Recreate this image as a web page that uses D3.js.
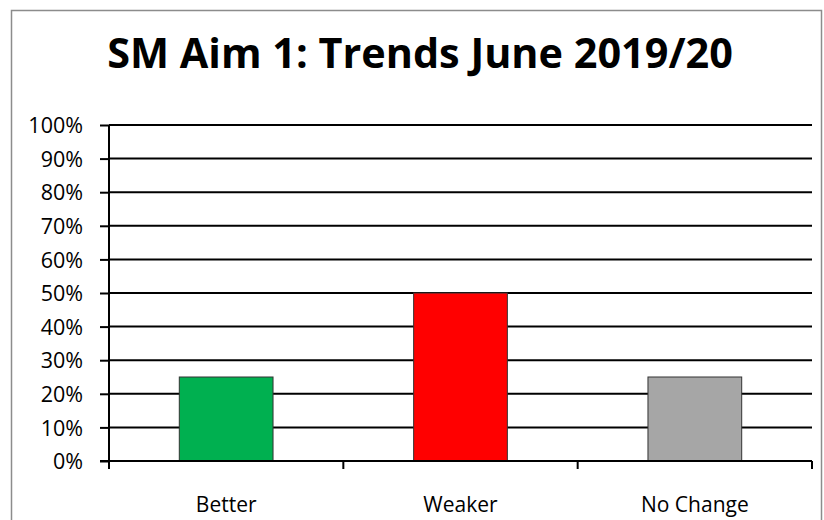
<!DOCTYPE html>
<html>
<head>
<meta charset="utf-8">
<script src="https://cdn.jsdelivr.net/npm/d3@7"></script>
<style>
  body { margin: 0; background: #fff; }
  text { font-family: "Open Sans", "Noto Sans", sans-serif; fill: #000; }
</style>
</head>
<body>
<svg id="chart" width="824" height="520"></svg>
<script>
// chart data
var categories = ['Better', 'Weaker', 'No Change'];
var values = [0.25, 0.50, 0.25];
var barColors = ['#00b050', '#ff0000', '#a6a6a6'];
var yTicks = [0, 0.1, 0.2, 0.3, 0.4, 0.5, 0.6, 0.7, 0.8, 0.9, 1.0];
var title = 'SM Aim 1: Trends June 2019/20';

(function () {
    var svg = d3.select('#chart');
    var left = 109, right = 812, top = 125, bottom = 461;

    // outer frame
    svg.append('rect')
        .attr('x', 11.5).attr('y', 10.5)
        .attr('width', 810).attr('height', 530)
        .attr('fill', 'none')
        .attr('stroke', '#8c8c8c')
        .attr('stroke-width', 1.5);

    // title, sized to the width of the original
    var t = svg.append('text')
        .attr('x', 420).attr('y', 68)
        .attr('text-anchor', 'middle')
        .style('font-size', '34px')
        .style('font-weight', 'bold')
        .text(title);
    var w = t.node().getComputedTextLength();
    t.style('font-size', (34 * 626 / w) + 'px');

    var x = d3.scaleBand().domain(categories).range([left, right]).paddingInner(0.6).paddingOuter(0.3);
    var y = d3.scaleLinear().domain([0, 1]).range([bottom, top]);

    // gridlines
    svg.append('g')
        .selectAll('line')
        .data(yTicks.slice(1))
        .enter().append('line')
            .attr('x1', left).attr('x2', right)
            .attr('y1', function (d) { return y(d); })
            .attr('y2', function (d) { return y(d); })
            .attr('stroke', '#000')
            .attr('stroke-width', 2);

    // bars
    svg.append('g')
        .selectAll('rect')
        .data(values)
        .enter().append('rect')
            .attr('x', function (d, i) { return x(categories[i]); })
            .attr('y', function (d) { return y(d); })
            .attr('width', x.bandwidth())
            .attr('height', function (d) { return y(0) - y(d); })
            .attr('fill', function (d, i) { return barColors[i]; })
            .attr('stroke', '#333')
            .attr('stroke-width', 1);

    // y axis
    var yAxis = svg.append('g')
        .attr('transform', 'translate(' + left + ',0)')
        .call(d3.axisLeft(y).tickValues(yTicks).tickSize(9).tickPadding(17).tickFormat(d3.format('.0%')));
    yAxis.attr('font-size', null).attr('font-family', null);
    yAxis.select('.domain').attr('stroke', '#000').attr('stroke-width', 2).attr('d', 'M0,' + top + 'V' + bottom);
    yAxis.selectAll('.tick line').attr('stroke', '#000').attr('stroke-width', 2);
    yAxis.selectAll('.tick text').style('font-size', '21.5px').attr('fill', '#000').attr('dy', '0.36em');

    // x axis, ticks on category boundaries
    var xAxis = svg.append('g').attr('transform', 'translate(0,' + bottom + ')');
    xAxis.append('line')
        .attr('x1', left - 9).attr('x2', right)
        .attr('stroke', '#000').attr('stroke-width', 2);
    var step = (right - left) / categories.length;
    xAxis.selectAll('.xt')
        .data(d3.range(categories.length + 1))
        .enter().append('line')
            .attr('class', 'xt')
            .attr('x1', function (d) { return left + d * step; })
            .attr('x2', function (d) { return left + d * step; })
            .attr('y1', 0).attr('y2', 8)
            .attr('stroke', '#000').attr('stroke-width', 2);
    xAxis.selectAll('.xl')
        .data(categories)
        .enter().append('text')
            .attr('class', 'xl')
            .attr('x', function (d) { return x(d) + x.bandwidth() / 2; })
            .attr('y', 51)
            .attr('text-anchor', 'middle')
            .style('font-size', '21px')
            .text(function (d) { return d; });
}());
</script>
</body>
</html>
